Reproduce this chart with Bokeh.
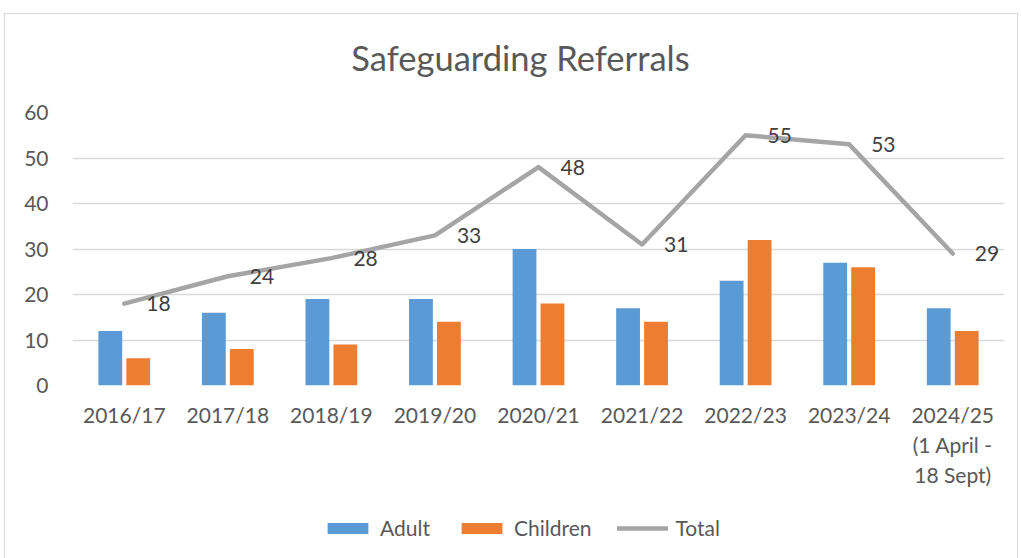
from bokeh.plotting import figure
from bokeh.models import FactorRange, Range1d, ColumnDataSource, Legend, LegendItem, SingleIntervalTicker, Label
from bokeh.layouts import column
from bokeh.transform import dodge
from bokeh.core.properties import value
from bokeh.embed import file_html
from bokeh.resources import INLINE

categories = ["2016/17", "2017/18", "2018/19", "2019/20", "2020/21", "2021/22",
              "2022/23", "2023/24", "2024/25\n(1 April -\n18 Sept)"]
adult = [12, 16, 19, 19, 30, 17, 23, 27, 17]
children = [6, 8, 9, 14, 18, 14, 32, 26, 12]
total = [18, 24, 28, 33, 48, 31, 55, 53, 29]
title_text = "Safeguarding Referrals"

FONT = "Lato"
BLUE, ORANGE, GREY = "#5B9BD5", "#ED7D31", "#A5A5A5"
src = ColumnDataSource(dict(cat=categories, adult=adult, children=children, total=total,
                            label=[str(v) for v in total]))

# title strip (pixel-like ranges spanning the aligned frame)
p0 = figure(width=1012, height=86, x_range=Range1d(72, 1004), y_range=Range1d(0, 86),
            output_backend="svg", toolbar_location=None, min_border=0)
p0.axis.visible = False
p0.grid.visible = False
p0.outline_line_color = None
p0.add_layout(Label(x=520, y=43, text=title_text, text_align="center",
                    text_baseline="alphabetic", text_font=FONT, text_font_size="34.5px",
                    text_color="#595959"))

p = figure(x_range=FactorRange(*categories, range_padding=0), y_range=Range1d(0, 60),
           width=1012, height=404, output_backend="svg", toolbar_location=None, title=None,
           min_border_left=67, min_border_right=13, min_border_top=12, min_border_bottom=119)
p.outline_line_color = None

p.vbar(x=dodge("cat", -0.135, range=p.x_range), top="adult", width=0.23, source=src,
       fill_color=BLUE, line_color=None)
p.vbar(x=dodge("cat", 0.135, range=p.x_range), top="children", width=0.23, source=src,
       fill_color=ORANGE, line_color=None)
p.line(x="cat", y="total", source=src, line_color=GREY, line_width=4.5,
       line_cap="round", line_join="round")
p.text(x="cat", y="total", text="label", source=src, x_offset=22, text_baseline="middle",
       text_align="left", text_font=value(FONT), text_font_size="21px", text_color="#404040")

p.xgrid.grid_line_color = None
p.ygrid.grid_line_color = "#D9D9D9"
p.ygrid.grid_line_width = 1.5
p.yaxis.ticker = SingleIntervalTicker(interval=10)
for ax in (p.xaxis, p.yaxis):
    ax.axis_line_color = None
    ax.major_tick_line_color = None
    ax.minor_tick_line_color = None
    ax.major_label_text_font = FONT
    ax.major_label_text_font_size = "21px"
    ax.major_label_text_color = "#595959"
p.yaxis.major_label_standoff = 18
p.xaxis.major_label_standoff = 10

# legend strip: same series drawn far out of view, only their legend glyphs show
p2 = figure(width=1012, height=54, x_range=p.x_range, y_range=Range1d(1000, 1001),
            output_backend="svg", toolbar_location=None, min_border=0)
p2.axis.visible = False
p2.grid.visible = False
p2.outline_line_color = None
d1 = p2.vbar(x=dodge("cat", -0.135, range=p.x_range), top="adult", width=0.23, source=src,
             fill_color=BLUE, line_color=None)
d2 = p2.vbar(x=dodge("cat", 0.135, range=p.x_range), top="children", width=0.23, source=src,
             fill_color=ORANGE, line_color=None)
d3 = p2.line(x="cat", y="total", source=src, line_color=GREY, line_width=4.5, line_cap="round")
legend = Legend(items=[LegendItem(label="Adult", renderers=[d1]),
                       LegendItem(label="Children", renderers=[d2]),
                       LegendItem(label="Total", renderers=[d3])],
                orientation="horizontal", location=(250, 18),
                label_text_font=FONT, label_text_font_size="21px", label_text_color="#595959",
                glyph_width=51, glyph_height=14, label_standoff=7, spacing=26,
                border_line_color=None, background_fill_alpha=0, margin=0, padding=0)
p2.add_layout(legend, "center")

layout = column(p0, p, p2, spacing=0)
layout.styles = {"border-left": "1px solid #D9D9D9", "border-right": "1px solid #D9D9D9",
                 "border-top": "1px solid #D9D9D9", "margin-left": "4px", "margin-top": "13px"}

open("out.html", "w").write(file_html(layout, INLINE))
